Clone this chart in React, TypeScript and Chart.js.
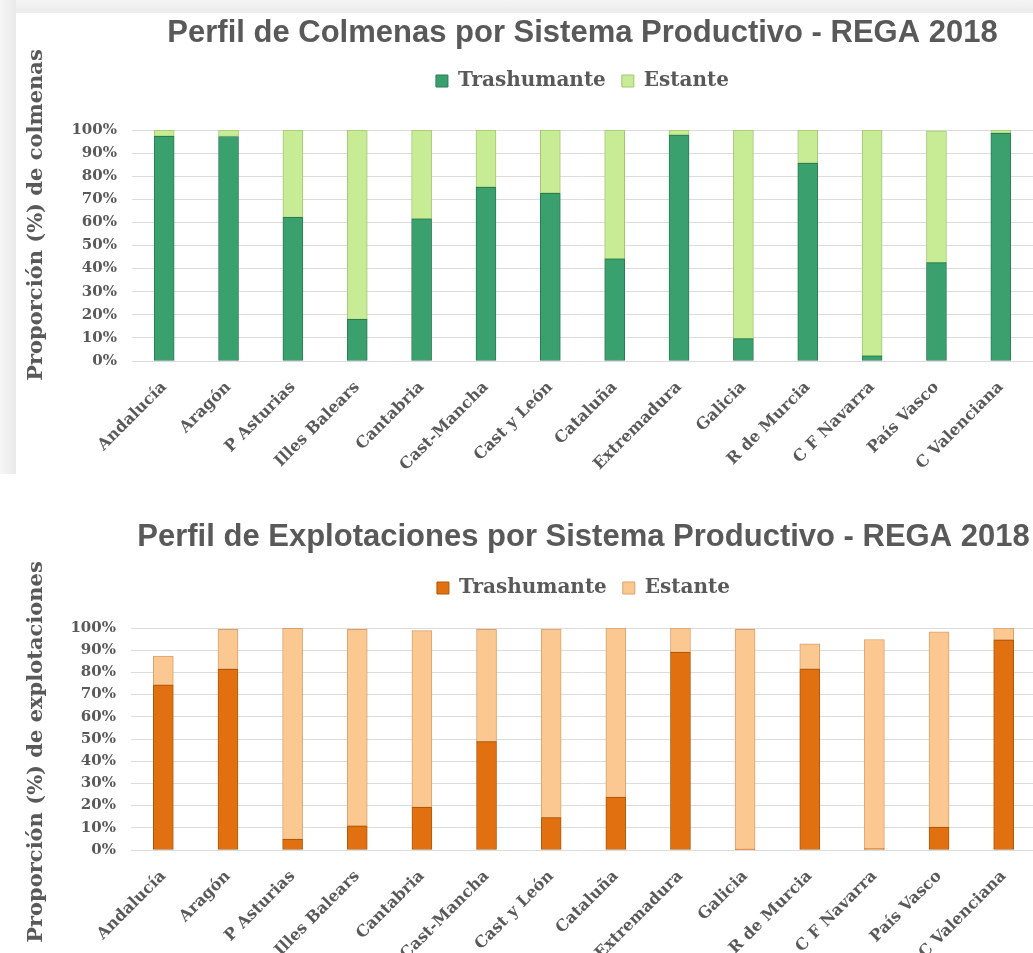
import React, { useEffect, useRef } from 'react';
import { Chart, registerables } from 'chart.js';

Chart.register(...registerables);

// ---------- data ----------
const regions = [
  'Andalucía', 'Aragón', 'P Asturias', 'Illes Balears', 'Cantabria', 'Cast-Mancha', 'Cast y León',
  'Cataluña', 'Extremadura', 'Galicia', 'R de Murcia', 'C F Navarra', 'País Vasco', 'C Valenciana',
];
const seriesNames = ['Trashumante', 'Estante'];

const colmenasTrashumante = [97.3, 97.2, 62.2, 18.0, 61.5, 75.2, 72.6, 44.2, 97.8, 9.7, 85.6, 2.2, 42.6, 98.6];
const colmenasEstante = [2.7, 2.8, 37.8, 82.0, 38.5, 24.8, 27.4, 55.8, 2.2, 90.3, 14.4, 97.8, 57.0, 1.4];

const explotTrashumante = [74.3, 81.4, 4.8, 10.8, 19.2, 48.8, 14.6, 23.7, 89.0, 0.3, 81.5, 0.5, 10.2, 94.6];
const explotEstante = [13.1, 18.0, 95.0, 88.6, 79.6, 50.6, 84.9, 76.3, 11.0, 99.1, 11.4, 94.3, 88.1, 5.4];

const yTickValues = [0, 10, 20, 30, 40, 50, 60, 70, 80, 90, 100];

const titleColmenas = 'Perfil de Colmenas por Sistema Productivo - REGA 2018';
const titleExplot = 'Perfil de Explotaciones por Sistema Productivo - REGA 2018';
const yTitleColmenas = 'Proporción (%) de colmenas';
const yTitleExplot = 'Proporción (%) de explotaciones';

// ---------- styling ----------
const TEXT = '#595959';
const SERIF = '"DejaVu Serif", serif';
const SANS = '"Liberation Sans", Arial, sans-serif';

const sideTitlePlugin = {
  id: 'sideTitle',
  afterDraw(chart: any, _args: any, opts: any) {
    const ctx = chart.ctx;
    ctx.save();
    ctx.font = `bold ${opts.size}px ${SERIF}`;
    ctx.fillStyle = opts.color;
    ctx.translate(opts.x, opts.y);
    ctx.rotate(-Math.PI / 2);
    ctx.textAlign = 'center';
    ctx.textBaseline = 'middle';
    ctx.fillText(opts.text, 0, 0);
    ctx.restore();
  },
};

type Props = {
  title: string;
  yTitle: string;
  trash: number[];
  est: number[];
  colors: { trash: string; trashBorder: string; est: string; estBorder: string };
  width: number;
  height: number;
  yAxisWidth: number;
  xAxisHeight: number;
  titlePad: { top: number; bottom: number };
  spacer: number;
  sideTitleY: number;
};

function StackedChart(p: Props) {
  const ref = useRef<HTMLCanvasElement | null>(null);
  useEffect(() => {
    if (!ref.current) return;
    const chart = new Chart(ref.current, {
      type: 'bar',
      data: {
        labels: regions,
        datasets: [
          {
            label: seriesNames[0],
            data: p.trash,
            backgroundColor: p.colors.trash,
            borderColor: p.colors.trashBorder,
            borderWidth: 1,
            borderSkipped: false,
            barThickness: 20,
          },
          {
            label: seriesNames[1],
            data: p.est,
            backgroundColor: p.colors.est,
            borderColor: p.colors.estBorder,
            borderWidth: 1,
            borderSkipped: false,
            barThickness: 20,
          },
        ],
      },
      options: {
        responsive: false,
        animation: false,
        layout: { padding: 0 },
        scales: {
          x: {
            stacked: true,
            grid: { display: false },
            border: { display: false },
            ticks: {
              color: TEXT,
              font: { family: SERIF, size: 16, weight: 'bold' },
              maxRotation: 45,
              minRotation: 45,
              padding: 9,
              autoSkip: false,
            },
            afterFit: (s: any) => {
              s.height = p.xAxisHeight;
              s.paddingLeft = 0;
              s.paddingRight = 0;
            },
          },
          y: {
            stacked: true,
            min: 0,
            max: 100,
            afterBuildTicks: (s: any) => {
              s.ticks = yTickValues.map((v) => ({ value: v }));
            },
            grid: { color: '#dcdcdc', lineWidth: 1, drawTicks: false },
            border: { display: false },
            ticks: {
              color: TEXT,
              font: { family: SERIF, size: 15, weight: 'bold' },
              padding: 15,
              callback: (v: any) => `${v}%`,
            },
            afterFit: (s: any) => {
              s.width = p.yAxisWidth;
            },
          },
        },
        plugins: {
          title: {
            display: true,
            text: p.title,
            color: TEXT,
            fullSize: false,
            font: { family: SANS, size: 31, weight: 'bold' },
            padding: p.titlePad,
          },
          legend: {
            display: true,
            position: 'top',
            fullSize: false,
            labels: {
              color: TEXT,
              font: { family: SERIF, size: 20, weight: 'bold' },
              boxWidth: 12,
              boxHeight: 12,
              padding: 16,
            },
          },
          subtitle: {
            display: true,
            text: '',
            weight: 500,
            font: { size: 1 },
            padding: { top: 0, bottom: p.spacer - 1.2 },
          },
          tooltip: { enabled: false },
          sideTitle: { text: p.yTitle, x: 37, y: p.sideTitleY, size: 21, color: TEXT },
        } as any,
      },
      plugins: [sideTitlePlugin],
    });
    return () => chart.destroy();
  }, []);
  return <canvas ref={ref} width={p.width} height={p.height} style={{ display: 'block' }} />;
}

export default function App() {
  return (
    <div
      style={{
        position: 'absolute',
        left: 0,
        top: 0,
        width: 1033,
        height: 953,
        overflow: 'hidden',
        background: '#ffffff',
      }}
    >
      <div style={{ position: 'absolute', left: 0, top: 0, width: 1033, height: 13, background: 'linear-gradient(#f4f4f4, #ececec)' }} />
      <div style={{ position: 'absolute', left: 0, top: 0, width: 16, height: 474, background: 'linear-gradient(90deg, #f6f6f6, #eaeaea)' }} />
      <div style={{ position: 'absolute', left: 0, top: 14 }}>
        <StackedChart
          title={titleColmenas}
          yTitle={yTitleColmenas}
          trash={colmenasTrashumante}
          est={colmenasEstante}
          colors={{ trash: '#3aa06e', trashBorder: '#2a7d52', est: '#c8ec96', estBorder: '#a2c672' }}
          width={1033}
          height={458}
          yAxisWidth={132}
          xAxisHeight={111}
          titlePad={{ top: 0.4, bottom: 3.4 }}
          spacer={29}
          sideTitleY={201}
        />
      </div>
      <div style={{ position: 'absolute', left: 0, top: 478 }}>
        <StackedChart
          title={titleExplot}
          yTitle={yTitleExplot}
          trash={explotTrashumante}
          est={explotEstante}
          colors={{ trash: '#e07010', trashBorder: '#b05808', est: '#fcc892', estBorder: '#d9a06c' }}
          width={1036}
          height={475}
          yAxisWidth={131}
          xAxisHeight={103}
          titlePad={{ top: 40.4, bottom: 6.4 }}
          spacer={20}
          sideTitleY={274}
        />
      </div>
    </div>
  );
}
